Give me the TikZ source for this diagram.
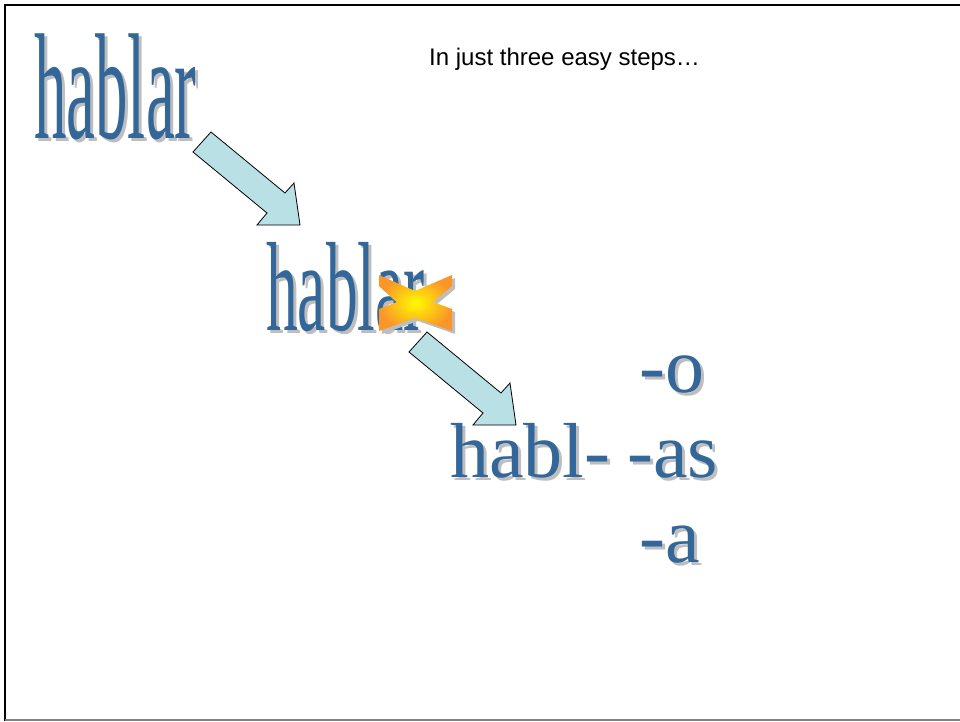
\documentclass[tikz,border=0pt]{standalone}
\usepackage{fontspec}
\setmainfont{Liberation Serif}
\newfontfamily\notefont{Liberation Sans}
\usepackage{graphicx}
\usetikzlibrary{positioning}
\definecolor{wordblue}{RGB}{51,102,153}
\definecolor{wordshadow}{RGB}{190,190,190}
\definecolor{arrowfill}{RGB}{185,224,228}
\definecolor{burstin}{RGB}{255,250,0}
\definecolor{burstout}{RGB}{250,150,40}
\tikzset{
    word/.style={inner sep=0pt, anchor=base west, text=wordblue},
    wordshade/.style={inner sep=0pt, anchor=base west, text=wordshadow},
    blockarrow/.style={fill=arrowfill, draw=black, line width=0.8pt, line join=miter},
    pics/steparrow/.style={code={
        \draw [blockarrow] (0,0) -- (18,-20) -- (92,41) -- (101,31) -- (107,73) -- (64,73) -- (74,61) -- cycle;
    }}
}

\begin{document}
\begin{tikzpicture}[x=1pt, y=-1pt]
        \useasboundingbox (0,0) rectangle (960,721);
        % frame
        \draw [line width=2.7pt] (960,5) -- (5,5) -- (5,721);
        \draw [gray, line width=1.2pt] (5,720) -- (960,720);

        \node [font=\notefont\fontsize{24}{28}\selectfont, inner sep=0pt, anchor=base west] (note) at (429,65) {In just three easy steps…};

        % step 1
        \node [wordshade] (hablar1s) at (37,141) {\scalebox{0.43}[1]{\fontsize{151}{151}\selectfont hablar}};
        \node [word] (hablar1) at (34,138) {\scalebox{0.43}[1]{\fontsize{151}{151}\selectfont hablar}};
        \pic at (193,152) {steparrow};

        % step 2
        \node [wordshade] (hablar2s) at (269,333) {\scalebox{0.5}[1]{\fontsize{127}{127}\selectfont hablar}};
        \node [word] (hablar2) at (266,330) {\scalebox{0.5}[1]{\fontsize{127}{127}\selectfont hablar}};
        \fill [wordshadow, shift={(3,3)}] (379,275) -- (415,291) -- (452,275) -- (452,286) -- (433,302) -- (452,309) -- (452,331) -- (415,318) -- (379,331) -- (379,309) -- (397,302) -- (379,286) -- cycle;
        \shade [inner color=burstin, outer color=burstout] (379,275) -- (415,291) -- (452,275) -- (452,286) -- (433,302) -- (452,309) -- (452,331) -- (415,318) -- (379,331) -- (379,309) -- (397,302) -- (379,286) -- cycle;
        \pic at (409,352) {steparrow};

        % step 3
        \node [wordshade] (stems) at (453,480) {\fontsize{78}{80}\selectfont habl-};
        \node [word] (stem) at (450,477) {\fontsize{78}{80}\selectfont habl-};
        \node [wordshade] (ends1s) at (642,395) {\fontsize{78}{80}\selectfont -o};
        \node [word] (ends1) at (639,392) {\fontsize{78}{80}\selectfont -o};
        \node [wordshade] (ends2s) at (630,480) {\fontsize{78}{80}\selectfont -as};
        \node [word] (ends2) at (627,477) {\fontsize{78}{80}\selectfont -as};
        \node [wordshade] (ends3s) at (642,565) {\fontsize{78}{80}\selectfont -a};
        \node [word] (ends3) at (639,562) {\fontsize{78}{80}\selectfont -a};
\end{tikzpicture}
\end{document}
